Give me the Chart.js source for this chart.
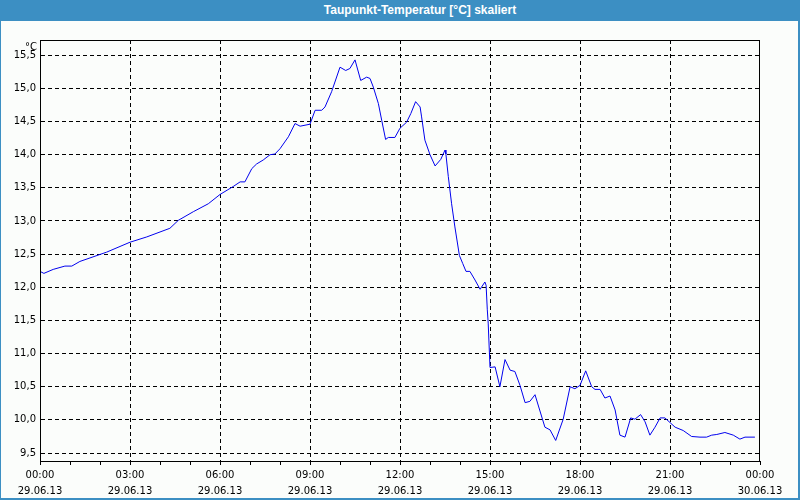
<!DOCTYPE html>
<html>
<head>
<meta charset="utf-8">
<script src="https://cdn.jsdelivr.net/npm/chart.js@4/dist/chart.umd.min.js"></script>
<style>
  html, body { margin: 0; padding: 0; }
  body { width: 800px; height: 500px; position: relative; background: #3c8fc3; overflow: hidden; }
  #titleBar { position: absolute; left: 0; top: 0; width: 800px; height: 21px; }
  #titleBar span { position: absolute; left: 420px; top: 3px; transform: translateX(-50%);
    color: #fff; font: bold 12px "Liberation Sans", sans-serif; white-space: nowrap; }
  #panel { position: absolute; left: 1px; top: 21px; width: 797px; height: 477px; background: #fbfdfb; }
  #chartBox { position: absolute; left: 0; top: 0; width: 800px; height: 500px; }
</style>
</head>
<body>
<div id="titleBar"><span>Taupunkt-Temperatur [°C] skaliert</span></div>
<div id="panel"></div>
<div id="chartBox"><canvas id="dewChart" width="800" height="500"></canvas></div>
<script>
// --- DATA ---
const hours = [
  0.0, 0.13, 0.44, 0.83, 1.06, 1.33, 2.22, 3.0, 3.56, 4.33, 4.61, 5.11, 5.61, 6.0, 6.44, 6.67,
  6.83, 7.06, 7.22, 7.44, 7.67, 7.83, 8.0, 8.28, 8.5, 8.67, 9.0, 9.17, 9.39, 9.5, 9.72, 10.0,
  10.19, 10.33, 10.5, 10.69, 10.89, 11.0, 11.11, 11.28, 11.39, 11.52, 11.61, 11.83, 12.0, 12.22,
  12.36, 12.52, 12.67, 12.72, 12.83, 13.0, 13.17, 13.36, 13.5, 13.53, 13.61, 13.72, 13.83, 13.98,
  14.09, 14.2, 14.33, 14.5, 14.67, 14.83, 14.87, 14.91, 14.94, 15.0, 15.17, 15.33, 15.5, 15.67,
  15.83, 16.0, 16.17, 16.33, 16.5, 16.83, 17.0, 17.19, 17.44, 17.67, 17.83, 18.0, 18.19, 18.39,
  18.5, 18.67, 18.83, 19.0, 19.17, 19.33, 19.5, 19.69, 19.83, 20.02, 20.17, 20.33, 20.5, 20.67,
  20.83, 21.17, 21.44, 21.72, 22.0, 22.22, 22.39, 22.56, 22.83, 23.11, 23.33, 23.5, 23.83
];
const dewPoint = [
  12.24, 12.21, 12.27, 12.32, 12.32, 12.39, 12.53, 12.68, 12.76, 12.89, 13.01, 13.14, 13.26, 13.40, 13.52, 13.59,
  13.59, 13.79, 13.86, 13.92, 14.00, 14.01, 14.09, 14.27, 14.47, 14.43, 14.46, 14.67, 14.67, 14.72, 14.95, 15.32,
  15.27, 15.30, 15.43, 15.12, 15.17, 15.15, 15.02, 14.77, 14.52, 14.23, 14.26, 14.26, 14.40, 14.49,
  14.62, 14.80, 14.72, 14.57, 14.22, 14.00, 13.83, 13.93, 14.07, 14.01, 13.67, 13.26, 12.91, 12.48,
  12.36, 12.24, 12.24, 12.11, 11.97, 12.08, 12.03, 11.66, 11.46, 10.79, 10.80, 10.50, 10.91, 10.75,
  10.73, 10.52, 10.26, 10.28, 10.38, 9.89, 9.85, 9.69, 10.01, 10.50, 10.47, 10.52, 10.74, 10.50,
  10.46, 10.46, 10.33, 10.36, 10.15, 9.77, 9.74, 10.03, 10.01, 10.08, 9.97, 9.77, 9.89, 10.03,
  10.03, 9.89, 9.84, 9.75, 9.74, 9.74, 9.77, 9.78, 9.81, 9.77, 9.71, 9.74, 9.74
];
const timeLabels = ['00:00', '03:00', '06:00', '09:00', '12:00', '15:00', '18:00', '21:00', '00:00'];
const dateLabels = ['29.06.13', '29.06.13', '29.06.13', '29.06.13', '29.06.13', '29.06.13', '29.06.13', '29.06.13', '30.06.13'];
const yMin = 9.38, yMax = 15.73;

const FONT = 'DejaVu Sans';

// frame round the plot area and the unit label
const framePlugin = {
  id: 'frame',
  afterDraw(chart) {
    const { ctx, chartArea: a } = chart;
    ctx.save();
    ctx.strokeStyle = '#000';
    ctx.lineWidth = 1;
    ctx.strokeRect(Math.round(a.left) + 0.5, Math.round(a.top) + 0.5,
      Math.round(a.right - a.left) - 1, Math.round(a.bottom - a.top));
    ctx.fillStyle = '#000';
    ctx.font = '10px "' + FONT + '"';
    ctx.textAlign = 'right';
    ctx.textBaseline = 'middle';
    ctx.fillText('°C', a.left - 3, a.top + 7);
    ctx.restore();
  }
};

new Chart(document.getElementById('dewChart'), {
  type: 'line',
  data: {
    datasets: [{
      label: 'Taupunkt',
      data: hours.map((h, i) => ({ x: h, y: dewPoint[i] })),
      borderColor: '#0000ee',
      borderWidth: 1,
      pointRadius: 0,
      tension: 0,
      fill: false
    }]
  },
  options: {
    responsive: false,
    animation: false,
    layout: { padding: { left: 0, top: 40, right: 40, bottom: 0 } },
    plugins: { legend: { display: false }, tooltip: { enabled: false } },
    scales: {
      x: {
        type: 'linear',
        min: 0,
        max: 24,
        afterFit(scale) { scale.height = 39; },
        border: { display: true, color: '#000', width: 1, dash: [4, 3] },
        grid: {
          color: ctx => (ctx.tick && ctx.tick.value % 3 === 0 && ctx.tick.value > 0 && ctx.tick.value < 24) ? '#000' : 'rgba(0,0,0,0)',
          tickColor: '#000',
          tickLength: 4,
          lineWidth: 1
        },
        ticks: {
          stepSize: 1,
          autoSkip: false,
          maxRotation: 0,
          padding: 3,
          color: '#000',
          font: { family: FONT, size: 10, lineHeight: 1.55 },
          callback: v => (v % 3 === 0) ? [timeLabels[v / 3], dateLabels[v / 3]] : ''
        }
      },
      y: {
        min: yMin,
        max: yMax,
        afterFit(scale) { scale.width = 40; },
        border: { display: true, color: '#000', width: 1, dash: [4, 3] },
        grid: { color: '#000', lineWidth: 1, drawTicks: false },
        ticks: {
          stepSize: 0.5,
          includeBounds: false,
          padding: 4,
          color: '#000',
          font: { family: FONT, size: 10 },
          callback: v => v.toFixed(1).replace('.', ',')
        }
      }
    }
  },
  plugins: [framePlugin]
});
</script>
</body>
</html>
